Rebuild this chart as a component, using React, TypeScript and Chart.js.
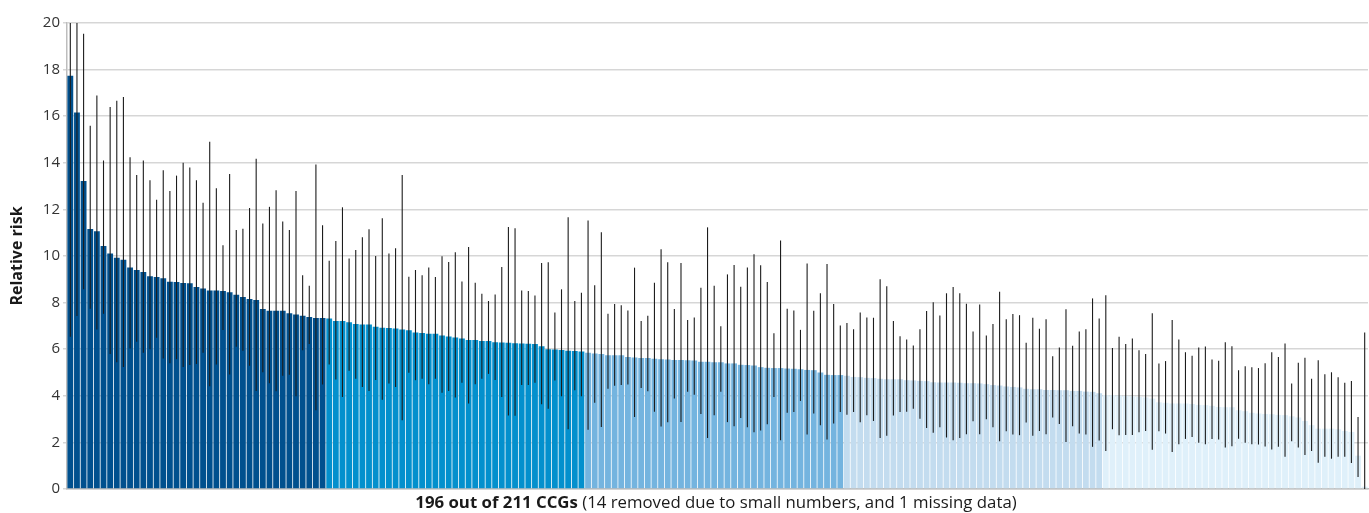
import React, { useEffect, useRef } from "react";
import { Chart, registerables } from "chart.js";

Chart.register(...registerables);

// Relative risk per CCG (sorted, 196 CCGs)
const relativeRisk = [
  17.74, 16.16, 13.22, 11.16, 11.06, 10.43, 10.11, 9.93, 9.84, 9.51,
  9.40, 9.31, 9.13, 9.10, 9.04, 8.90, 8.88, 8.84, 8.83, 8.67,
  8.61, 8.52, 8.52, 8.50, 8.44, 8.34, 8.24, 8.15, 8.11, 7.72,
  7.65, 7.65, 7.65, 7.54, 7.49, 7.44, 7.38, 7.34, 7.34, 7.32,
  7.21, 7.21, 7.16, 7.08, 7.06, 7.06, 6.96, 6.92, 6.91, 6.89,
  6.85, 6.81, 6.72, 6.69, 6.66, 6.66, 6.59, 6.55, 6.50, 6.46,
  6.39, 6.39, 6.35, 6.35, 6.30, 6.29, 6.28, 6.26, 6.25, 6.23,
  6.22, 6.13, 6.00, 5.99, 5.97, 5.93, 5.92, 5.90, 5.85, 5.82,
  5.79, 5.74, 5.74, 5.74, 5.66, 5.64, 5.62, 5.62, 5.59, 5.57,
  5.56, 5.54, 5.54, 5.53, 5.52, 5.46, 5.46, 5.44, 5.44, 5.39,
  5.39, 5.33, 5.32, 5.30, 5.23, 5.20, 5.19, 5.19, 5.17, 5.16,
  5.14, 5.11, 5.10, 5.00, 4.90, 4.89, 4.89, 4.86, 4.81, 4.80,
  4.77, 4.76, 4.73, 4.71, 4.71, 4.71, 4.67, 4.66, 4.64, 4.63,
  4.58, 4.57, 4.57, 4.57, 4.56, 4.54, 4.54, 4.53, 4.50, 4.46,
  4.44, 4.40, 4.38, 4.36, 4.30, 4.28, 4.28, 4.25, 4.25, 4.24,
  4.24, 4.21, 4.21, 4.18, 4.17, 4.11, 4.03, 4.03, 4.01, 4.00,
  3.98, 3.95, 3.93, 3.88, 3.72, 3.70, 3.67, 3.67, 3.67, 3.65,
  3.61, 3.60, 3.57, 3.52, 3.51, 3.51, 3.38, 3.34, 3.27, 3.24,
  3.22, 3.21, 3.18, 3.17, 3.12, 3.07, 2.92, 2.74, 2.59, 2.59,
  2.59, 2.56, 2.49, 2.45, 1.43, 0.1,
];

// Lower 95% confidence limit
const lowerCI = [
  6.53, 7.42, 8.57, 7.74, 6.85, 7.52, 5.79, 5.44, 5.24, 6.03,
  6.32, 5.85, 6.00, 6.49, 5.60, 5.40, 5.57, 5.24, 5.32, 5.37,
  5.85, 4.41, 5.34, 6.82, 4.91, 6.10, 5.93, 5.29, 4.21, 5.01,
  4.54, 4.20, 4.86, 4.90, 3.98, 5.96, 6.22, 3.38, 4.48, 5.34,
  4.70, 3.95, 5.07, 4.73, 4.38, 4.21, 4.68, 3.83, 4.53, 4.38,
  2.95, 4.99, 4.67, 4.73, 4.50, 4.73, 4.13, 4.21, 3.93, 4.56,
  3.67, 4.50, 4.73, 4.94, 4.68, 3.95, 3.15, 3.14, 4.46, 4.46,
  4.56, 3.64, 3.44, 4.66, 3.98, 2.56, 4.24, 3.98, 2.54, 3.70,
  2.66, 4.30, 4.43, 4.46, 4.48, 3.09, 4.34, 4.20, 3.32, 2.68,
  2.87, 3.88, 2.88, 4.17, 4.05, 3.22, 2.19, 3.17, 4.17, 2.87,
  2.69, 3.05, 2.65, 2.44, 2.51, 2.78, 3.95, 2.09, 3.27, 3.31,
  3.78, 2.34, 3.24, 2.74, 2.12, 2.81, 3.30, 3.19, 3.30, 2.87,
  3.17, 2.92, 2.19, 2.29, 3.15, 3.31, 3.32, 3.44, 3.02, 2.62,
  2.41, 2.65, 2.21, 2.09, 2.19, 2.35, 2.91, 2.35, 2.99, 2.65,
  2.05, 2.48, 2.34, 2.31, 2.85, 2.29, 2.49, 2.35, 3.07, 2.79,
  2.02, 2.69, 2.38, 2.34, 1.81, 2.08, 1.63, 2.56, 2.31, 2.32,
  2.32, 2.44, 2.49, 1.68, 2.48, 2.38, 1.59, 1.92, 2.15, 2.23,
  1.98, 1.92, 2.15, 2.12, 1.78, 1.83, 2.16, 1.98, 1.92, 1.91,
  1.82, 1.70, 1.81, 1.38, 2.05, 1.78, 1.46, 1.63, 1.13, 1.38,
  1.30, 1.38, 1.38, 1.12, 0.52, 0.0,
];

// Upper 95% confidence limit
const upperCI = [
  24.0, 22.0, 19.54, 15.59, 16.89, 14.10, 16.40, 16.66, 16.82, 14.24,
  13.48, 14.10, 13.25, 12.41, 13.68, 12.79, 13.45, 14.00, 13.80, 13.25,
  12.29, 14.90, 12.91, 10.46, 13.52, 11.12, 11.17, 12.06, 14.17, 11.39,
  12.11, 12.82, 11.48, 11.12, 12.79, 9.17, 8.72, 13.93, 11.32, 9.80,
  10.64, 12.09, 9.89, 10.26, 10.80, 11.15, 10.00, 11.62, 10.11, 10.33,
  13.48, 9.11, 9.40, 9.17, 9.51, 9.10, 9.99, 9.74, 10.16, 8.91,
  10.39, 8.85, 8.38, 8.07, 8.35, 9.53, 11.25, 11.19, 8.52, 8.50,
  8.31, 9.70, 9.73, 7.58, 8.57, 11.66, 8.07, 8.42, 11.52, 8.75,
  11.02, 7.52, 7.94, 7.89, 7.66, 9.50, 7.21, 7.44, 8.85, 10.29,
  9.73, 7.72, 9.70, 7.25, 7.36, 8.64, 11.23, 8.72, 6.99, 9.21,
  9.61, 8.68, 9.51, 10.07, 9.60, 8.88, 6.68, 10.67, 7.74, 7.66,
  6.83, 9.68, 7.65, 8.40, 9.66, 7.94, 7.02, 7.12, 6.86, 7.58,
  7.36, 7.35, 9.00, 8.70, 7.21, 6.56, 6.42, 6.16, 6.86, 7.64,
  8.01, 7.45, 8.40, 8.67, 8.40, 7.95, 6.76, 7.92, 6.59, 7.08,
  8.47, 7.29, 7.51, 7.46, 6.28, 7.35, 6.88, 7.29, 5.70, 6.07,
  7.71, 6.15, 6.76, 6.86, 8.18, 7.32, 8.32, 6.05, 6.53, 6.22,
  6.46, 5.96, 5.79, 7.54, 5.39, 5.49, 7.25, 6.42, 5.87, 5.72,
  6.07, 6.12, 5.56, 5.50, 6.30, 6.13, 5.10, 5.27, 5.23, 5.19,
  5.40, 5.87, 5.66, 6.25, 4.53, 5.42, 5.63, 4.73, 5.53, 4.93,
  5.01, 4.80, 4.56, 4.63, 3.09, 6.72,
];

const ccgLabels = relativeRisk.map((_, i) => "CCG " + (i + 1));

// Quintile groups (number of CCGs in each) and their colours
const groupSizes = [39, 39, 39, 39, 40];
const groupColors = ["#00508e", "#0390cd", "#74b4df", "#c3dcef", "#dff0fa"];

const yTitle = "Relative risk";
const xTitleBold = "196 out of 211 CCGs";
const xTitleRest = " (14 removed due to small numbers, and 1 missing data)";

const FONT = "'Open Sans', 'Noto Sans', sans-serif";

function barColors(): string[] {
  const out: string[] = [];
  groupSizes.forEach((n, g) => {
    for (let k = 0; k < n; k++) out.push(groupColors[g]);
  });
  return out;
}

const errorBarPlugin = {
  id: "errorBars",
  afterDatasetsDraw(chart: any) {
    const meta = chart.getDatasetMeta(0);
    const y = chart.scales.y;
    const area = chart.chartArea;
    const ctx = chart.ctx;
    ctx.save();
    ctx.beginPath();
    ctx.rect(area.left, area.top, area.right - area.left, area.bottom - area.top);
    ctx.clip();
    ctx.strokeStyle = "#1c1c1c";
    ctx.lineWidth = 1.1;
    meta.data.forEach((bar: any, i: number) => {
      const x = bar.x;
      const y1 = y.getPixelForValue(lowerCI[i]);
      const y2 = y.getPixelForValue(upperCI[i]);
      ctx.beginPath();
      ctx.moveTo(x, y1);
      ctx.lineTo(x, y2);
      ctx.stroke();
    });
    ctx.restore();
  },
};

const titlePlugin = {
  id: "customTitles",
  afterDraw(chart: any) {
    const ctx = chart.ctx;
    const area = chart.chartArea;
    ctx.save();
    // y title
    ctx.fillStyle = "#1a1a1a";
    ctx.font = `bold 16px ${FONT}`;
    ctx.textAlign = "center";
    ctx.textBaseline = "middle";
    ctx.translate(17, (area.top + area.bottom) / 2);
    ctx.rotate(-Math.PI / 2);
    ctx.fillText(yTitle, 0, 0);
    ctx.restore();

    // x title (bold + normal)
    ctx.save();
    ctx.textBaseline = "middle";
    ctx.textAlign = "left";
    ctx.fillStyle = "#1a1a1a";
    ctx.font = `bold 16.8px ${FONT}`;
    const wb = ctx.measureText(xTitleBold).width;
    ctx.font = `16.8px ${FONT}`;
    const wr = ctx.measureText(xTitleRest).width;
    const cx = 716;
    const startX = cx - (wb + wr) / 2;
    const ty = 503;
    ctx.font = `bold 16.8px ${FONT}`;
    ctx.fillText(xTitleBold, startX, ty);
    ctx.font = `16.8px ${FONT}`;
    ctx.fillText(xTitleRest, startX + wb, ty);
    ctx.restore();
  },
};

export default function App() {
  const canvasRef = useRef<HTMLCanvasElement | null>(null);

  useEffect(() => {
    document.body.style.margin = "0";
    const canvas = canvasRef.current;
    if (!canvas) return;
    const chart = new Chart(canvas, {
      type: "bar",
      data: {
        labels: ccgLabels,
        datasets: [
          {
            data: relativeRisk,
            backgroundColor: barColors(),
            borderWidth: 0,
            barPercentage: 0.88,
            categoryPercentage: 1.0,
          },
        ],
      },
      options: {
        animation: false,
        responsive: false,
        maintainAspectRatio: false,
        layout: { padding: { left: 0, right: 1, top: 23, bottom: 0 } },
        plugins: {
          legend: { display: false },
          tooltip: { enabled: false },
          title: { display: false },
        },
        scales: {
          x: {
            grid: { display: false },
            border: { display: true, color: "#bdbdbd", width: 1.5 },
            ticks: { display: false },
            afterFit: (s: any) => {
              s.height = 24;
            },
          },
          y: {
            min: 0,
            max: 20,
            z: 1,
            ticks: {
              stepSize: 2,
              color: "#333333",
              font: { family: FONT, size: 15 },
              padding: 3,
            },
            grid: {
              color: "rgba(0,0,0,0.16)",
              lineWidth: 1.5,
              tickLength: 4,
              drawTicks: true,
            },
            border: { display: true, color: "#bdbdbd", width: 1.5 },
            afterFit: (s: any) => {
              s.width = 67;
            },
          },
        },
      },
      plugins: [errorBarPlugin, titlePlugin],
    });
    return () => chart.destroy();
  }, []);

  return (
    <div style={{ width: 1369, height: 513 }}>
      <canvas ref={canvasRef} width={1369} height={513} style={{ width: 1369, height: 513, display: "block" }} />
    </div>
  );
}
